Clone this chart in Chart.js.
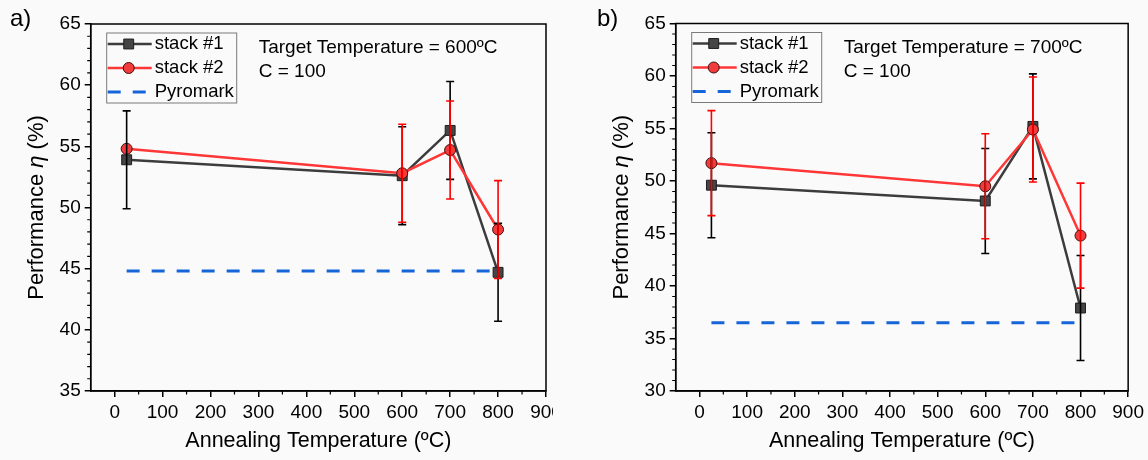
<!DOCTYPE html>
<html>
<head>
<meta charset="utf-8">
<script src="https://cdn.jsdelivr.net/npm/chart.js@4.4.1/dist/chart.umd.min.js"></script>
<style>
  html, body { margin: 0; padding: 0; background: #fafafa; }
  #wrap { position: relative; width: 1148px; height: 460px; overflow: hidden; background: #fafafa; }
  #boxA { position: absolute; left: 0; top: 0; width: 553px; height: 460px; overflow: hidden; }
  #boxB { position: absolute; left: 574px; top: 0; width: 574px; height: 460px; }
  canvas { display: block; }
</style>
</head>
<body>
<div id="wrap">
  <div id="boxA"><canvas id="chartA" width="574" height="460"></canvas></div>
  <div id="boxB"><canvas id="chartB" width="574" height="460"></canvas></div>
</div>
<script>
Chart.defaults.font.family = '"Liberation Sans", Arial, sans-serif';
Chart.defaults.color = '#000';

// shared
var anneal = [25, 600, 700, 800];
var pyroX = [25, 800];
var xTicks = [0, 100, 200, 300, 400, 500, 600, 700, 800, 900];

// panel a) target 600ºC
var a_stack1 = [53.9, 52.6, 56.3, 44.7];
var a_stack1Err = [4, 4, 4, 4];
var a_stack2 = [54.8, 52.8, 54.7, 48.2];
var a_stack2Err = [0, 4, 4, 4];
var a_pyro = [44.8, 44.8];
var a_yTicks = [35, 40, 45, 50, 55, 60, 65];

// panel b) target 700ºC
var b_stack1 = [49.6, 48.1, 55.2, 37.9];
var b_stack1Err = [5, 5, 5, 5];
var b_stack2 = [51.7, 49.5, 54.9, 44.8];
var b_stack2Err = [5, 5, 5, 5];
var b_pyro = [36.5, 36.5];
var b_yTicks = [30, 35, 40, 45, 50, 55, 60, 65];

var FONT = '"Liberation Sans", Arial, sans-serif';

function pts(xs, ys) {
    return xs.map(function (x, i) { return { x: x, y: ys[i] }; });
}

function extras(cfg) {
    return {
        id: 'extras',
        afterDatasetsDraw: function (chart) {
            var ctx = chart.ctx, x = chart.scales.x, y = chart.scales.y;
            cfg.errors.forEach(function (e) {
                ctx.save();
                ctx.strokeStyle = e.color;
                ctx.lineWidth = 1.6;
                e.vals.forEach(function (v, i) {
                    if (!e.err[i]) return;
                    var px = x.getPixelForValue(anneal[i]);
                    var top = y.getPixelForValue(v + e.err[i]);
                    var bot = y.getPixelForValue(v - e.err[i]);
                    ctx.beginPath();
                    ctx.moveTo(px, top); ctx.lineTo(px, bot);
                    ctx.moveTo(px - 4, top); ctx.lineTo(px + 4, top);
                    ctx.moveTo(px - 4, bot); ctx.lineTo(px + 4, bot);
                    ctx.stroke();
                });
                ctx.restore();
            });
        },
        afterDraw: function (chart) {
            var ctx = chart.ctx, a = chart.chartArea, x = chart.scales.x, y = chart.scales.y;
            ctx.save();
            // frame
            ctx.strokeStyle = '#000';
            ctx.lineWidth = 1.5;
            ctx.strokeRect(a.left, a.top, a.right - a.left, a.bottom - a.top);
            // minor ticks
            ctx.lineWidth = 1.2;
            ctx.beginPath();
            for (var v = y.min; v <= y.max; v++) {
                if (v % 5 === 0) continue;
                var py = y.getPixelForValue(v);
                ctx.moveTo(a.left, py); ctx.lineTo(a.left - 3.5, py);
            }
            for (var t = 50; t < x.max; t += 100) {
                var px = x.getPixelForValue(t);
                ctx.moveTo(px, a.bottom); ctx.lineTo(px, a.bottom + 3.5);
            }
            ctx.stroke();

            // legend box
            var lx = a.left + 16, ly = a.top + 9;
            ctx.strokeStyle = '#7a7a7a';
            ctx.lineWidth = 1;
            ctx.strokeRect(lx, ly, 130, 70);
            ctx.font = '18.5px ' + FONT;
            ctx.textBaseline = 'middle';
            ctx.fillStyle = '#000';
            chart.data.datasets.forEach(function (ds, i) {
                var ry = ly + 11 + i * 24;
                ctx.save();
                ctx.strokeStyle = ds.borderColor;
                ctx.lineWidth = ds.borderWidth;
                ctx.setLineDash(ds.borderDash || []);
                ctx.beginPath();
                ctx.moveTo(lx + 1, ry); ctx.lineTo(lx + 45, ry);
                ctx.stroke();
                ctx.restore();
                if (ds.pointRadius) {
                    ctx.save();
                    ctx.fillStyle = ds.backgroundColor;
                    ctx.strokeStyle = ds.pointBorderColor;
                    ctx.lineWidth = ds.pointBorderWidth;
                    Chart.helpers.drawPoint(ctx, { pointStyle: ds.pointStyle, radius: ds.pointRadius, borderWidth: ds.pointBorderWidth }, lx + 22, ry);
                    ctx.restore();
                }
                ctx.fillText(ds.label, lx + 48, ry);
            });

            // annotation
            ctx.font = '19px ' + FONT;
            ctx.fillText(cfg.note[0], a.left + 168, a.top + 24);
            ctx.fillText(cfg.note[1], a.left + 168, a.top + 48);

            // panel label
            ctx.font = '24px ' + FONT;
            ctx.textBaseline = 'alphabetic';
            ctx.fillText(cfg.panel, cfg.panelX, 26);

            // y title with italic eta
            ctx.translate(a.left - 54, (a.top + a.bottom) / 2);
            ctx.rotate(-Math.PI / 2);
            ctx.textBaseline = 'middle';
            var parts = [['Performance ', ''], ['\u03b7', 'italic '], [' (%)', '']];
            var total = 0;
            parts.forEach(function (p) { ctx.font = p[1] + '22px ' + FONT; total += ctx.measureText(p[0]).width; });
            var cx = -total / 2;
            parts.forEach(function (p) {
                ctx.font = p[1] + '22px ' + FONT;
                ctx.fillText(p[0], cx, 0);
                cx += ctx.measureText(p[0]).width;
            });
            ctx.restore();
        }
    };
}

function makeChart(id, c) {
    var axisGrid = { display: true, drawOnChartArea: false, drawTicks: true, tickLength: 6, color: '#000', lineWidth: 1.5 };
    var axisBorder = { display: true, color: '#000', width: 1.5 };
    return new Chart(document.getElementById(id), {
        type: 'line',
        plugins: [extras(c)],
        data: {
            datasets: [
                {
                    label: 'stack #1',
                    data: pts(anneal, c.s1),
                    borderColor: '#3c3c3c',
                    backgroundColor: '#454545',
                    borderWidth: 2.5,
                    pointStyle: 'rect',
                    pointRadius: 7,
                    pointBorderColor: '#1e1e1e',
                    pointBorderWidth: 1,
                    order: 1,
                },
                {
                    label: 'stack #2',
                    data: pts(anneal, c.s2),
                    borderColor: '#ff3636',
                    backgroundColor: '#f23c3c',
                    borderWidth: 2.5,
                    pointStyle: 'circle',
                    pointRadius: 5.5,
                    pointBorderColor: '#3a1010',
                    pointBorderWidth: 1,
                    order: 0,
                },
                {
                    label: 'Pyromark',
                    data: pts(pyroX, c.pyro),
                    borderColor: '#1565d8',
                    borderWidth: 3,
                    borderDash: [13, 12],
                    pointRadius: 0,
                    order: 2,
                },
            ]
        },
        options: {
            responsive: false,
            animation: false,
            layout: { padding: c.pad },
            plugins: {
                legend: { display: false },
                tooltip: { enabled: false },
            },
            elements: { line: { tension: 0 } },
            scales: {
                x: {
                    type: 'linear',
                    min: -50,
                    max: 900,
                    afterBuildTicks: function (s) { s.ticks = xTicks.map(function (v) { return { value: v }; }); },
                    afterFit: function (s) { s.height = 69; },
                    grid: axisGrid,
                    border: axisBorder,
                    ticks: { color: '#000', font: { size: 19 }, padding: 4, maxRotation: 0, autoSkip: false },
                    title: {
                        display: true,
                        text: 'Annealing Temperature (ºC)',
                        color: '#000',
                        font: { size: 21.5 },
                        padding: { top: 0, bottom: 6 },
                    },
                },
                y: {
                    min: c.yTicks[0],
                    max: c.yTicks[c.yTicks.length - 1],
                    afterBuildTicks: function (s) { s.ticks = c.yTicks.map(function (v) { return { value: v }; }); },
                    afterFit: function (s) { s.width = c.yWidth; },
                    grid: axisGrid,
                    border: axisBorder,
                    ticks: { color: '#000', font: { size: 19 }, padding: 4 },
                },
            },
        },
    });
}

makeChart('chartA', {
    s1: a_stack1, s2: a_stack2, pyro: a_pyro, yTicks: a_yTicks,
    errors: [{ vals: a_stack1, err: a_stack1Err, color: '#000' }, { vals: a_stack2, err: a_stack2Err, color: '#ff0000' }],
    note: ['Target Temperature = 600ºC', 'C = 100'],
    panel: 'a)', panelX: 10,
    pad: { top: 24, right: 28, left: 0, bottom: 0 },
    yWidth: 90.7,
});

makeChart('chartB', {
    s1: b_stack1, s2: b_stack2, pyro: b_pyro, yTicks: b_yTicks,
    errors: [{ vals: b_stack1, err: b_stack1Err, color: '#000' }, { vals: b_stack2, err: b_stack2Err, color: '#ff0000' }],
    note: ['Target Temperature = 700ºC', 'C = 100'],
    panel: 'b)', panelX: 23,
    pad: { top: 23.5, right: 19, left: 0, bottom: 0 },
    yWidth: 101.7,
});
</script>
</body>
</html>
